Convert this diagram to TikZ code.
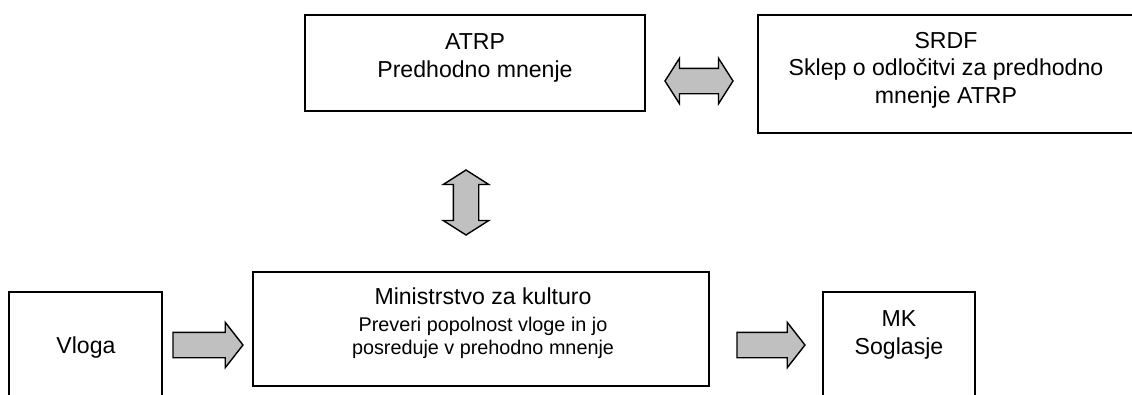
\documentclass[tikz,border=0pt]{standalone}
\usepackage{fontspec}
\setmainfont{Liberation Sans}
\usetikzlibrary{shapes.arrows}
\definecolor{arrowgray}{RGB}{192,192,192}
\tikzset{
  box/.style={draw, line width=1.5pt, inner sep=0pt},
  big/.style={font=\fontsize{23.1}{27.5}\selectfont, align=center, anchor=base},
  arr/.style={draw, fill=arrowgray, line width=1.4pt, inner xsep=0pt, inner ysep=12pt,
    minimum width=44pt,
    single arrow head extend=10pt, single arrow tip angle=104,
    double arrow head extend=10pt, double arrow tip angle=115}
}

\begin{document}
\begin{tikzpicture}[x=1pt,y=-1pt]
    \fill[white] (0,0) rectangle (1132,394);
    \path[use as bounding box, clip] (0,0) rectangle (1132,394);
    %% Draw the boxes
    \node[box, minimum width=340pt, minimum height=96pt] (ATRP) at (475,63) {};
    \node[box, minimum width=376pt, minimum height=118pt] (SRDF) at (946,74) {};
    \node[box, minimum width=456pt, minimum height=114pt] (MZK) at (481,329) {};
    \node[box, minimum width=153pt, minimum height=108pt] (Vloga) at (85.5,346) {};
    \node[box, minimum width=152pt, minimum height=108pt] (MK) at (899,346) {};
    %% Draw the texts (placed at the baseline of the last line)
    \node[big] (ATRPt) at (475,77) {ATRP\\Predhodno mnenje};
    \node[big] (SRDFt) at (946,103) {SRDF\\Sklep o odločitvi za predhodno\\mnenje ATRP};
    \node[big] (MZKt) at (483,354) {Ministrstvo za kulturo\\{\fontsize{19.8}{22}\selectfont Preveri popolnost vloge in jo}\\[-5pt]{\fontsize{19.8}{22}\selectfont posreduje v prehodno mnenje}};
    \node[big] (Vlogat) at (86,353) {Vloga};
    \node[big] (MKt) at (899,354) {MK\\Soglasje};
    %% Draw the block arrows
    \begin{scope}[every node/.style={arr}]
      \node[single arrow, minimum height=70pt] (VM) at (203,345) {};
      \node[single arrow, minimum height=68pt] (MMK) at (766,345) {};
      \node[double arrow, minimum height=68pt] (AS) at (699,81) {};
      \node[double arrow, minimum height=65pt, rotate=90] (AM) at (466,202.5) {};
    \end{scope}
  \end{tikzpicture}
\end{document}
